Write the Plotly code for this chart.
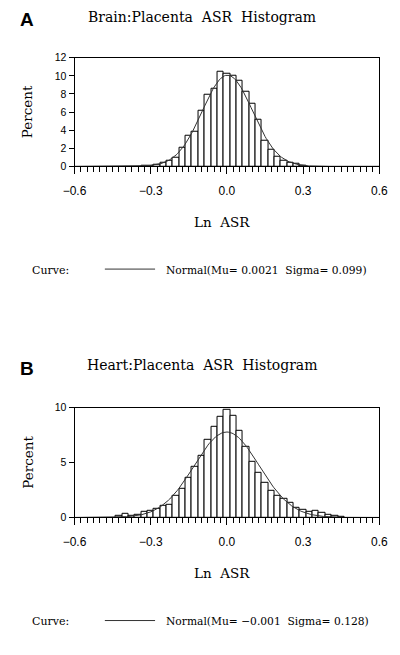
import math
import plotly.graph_objects as go

# ---------------- data ----------------
bin_width = 0.025

brain_mids = [-0.325, -0.3, -0.275, -0.25, -0.225, -0.2, -0.175, -0.15, -0.125, -0.1,
              -0.075, -0.05, -0.025, 0.0, 0.025, 0.05, 0.075, 0.1, 0.125, 0.15,
              0.175, 0.2, 0.225, 0.25, 0.275, 0.3]
brain_pct = [0.07, 0.1, 0.2, 0.38, 0.58, 1.0, 2.0, 3.33, 3.85, 6.1,
             7.95, 8.62, 10.5, 10.25, 10.0, 9.42, 8.2, 6.9, 5.12, 2.85,
             1.88, 1.05, 0.62, 0.45, 0.3, 0.1]
brain_mu, brain_sigma = 0.0021, 0.099

heart_mids = [-0.425, -0.4, -0.375, -0.35, -0.325, -0.3, -0.275, -0.25, -0.225, -0.2,
              -0.175, -0.15, -0.125, -0.1, -0.075, -0.05, -0.025, 0.0, 0.025, 0.05,
              0.075, 0.1, 0.125, 0.15, 0.175, 0.2, 0.225, 0.25, 0.275, 0.3,
              0.325, 0.35, 0.375, 0.4, 0.425, 0.45]
heart_pct = [0.12, 0.3, 0.18, 0.25, 0.5, 0.6, 0.82, 1.08, 1.2, 1.98,
             2.58, 3.58, 4.65, 5.65, 7.12, 8.28, 9.18, 9.85, 9.25, 7.9,
             6.45, 5.12, 4.05, 3.15, 2.4, 1.95, 1.72, 1.3, 0.92, 0.68,
             0.5, 0.58, 0.45, 0.25, 0.15, 0.1]
heart_mu, heart_sigma = -0.001, 0.128

x_tickvals = [-0.6, -0.3, 0.0, 0.3, 0.6]
x_ticktext = ["\u22120.6", "\u22120.3", "0.0", "0.3", "0.6"]
brain_yticks = [0, 2, 4, 6, 8, 10, 12]
heart_yticks = [0, 5, 10]

panel_titles = ["Brain:Placenta  ASR  Histogram", "Heart:Placenta  ASR  Histogram"]
legend_texts = ["Normal(Mu= 0.0021  Sigma= 0.099)", "Normal(Mu= \u22120.001  Sigma= 0.128)"]


def normal_curve(mu, sigma, lo=-0.6, hi=0.6, n=241):
    xs, ys = [], []
    for i in range(n):
        x = lo + (hi - lo) * i / (n - 1)
        d = math.exp(-0.5 * ((x - mu) / sigma) ** 2) / (sigma * math.sqrt(2 * math.pi))
        xs.append(x)
        ys.append(100 * bin_width * d)
    return xs, ys


# ---------------- figure ----------------
W, H = 400, 655
fig = go.Figure()

def py(pix):  # pixel y (from top) -> paper y
    return 1 - pix / H

def px(pix):
    return pix / W

serif = "DejaVu Serif"
sans = "Liberation Sans"

panels = [
    dict(mids=brain_mids, pct=brain_pct, mu=brain_mu, sigma=brain_sigma, top=52.7, bot=163.3,
         yr=[0, 12], yt=brain_yticks, xa="x", ya="y", letter="A", letter_y=14,
         title_y=11, xlab_y=220, leg_y=269, title=panel_titles[0], leg=legend_texts[0]),
    dict(mids=heart_mids, pct=heart_pct, mu=heart_mu, sigma=heart_sigma, top=409.3, bot=521,
         yr=[0, 10], yt=heart_yticks, xa="x2", ya="y2", letter="B", letter_y=369,
         title_y=366, xlab_y=578, leg_y=627, title=panel_titles[1], leg=legend_texts[1]),
]

for i, p in enumerate(panels):
    fig.add_trace(go.Bar(x=p["mids"], y=p["pct"], width=bin_width,
                         marker=dict(color="white", line=dict(color="black", width=1)),
                         xaxis=p["xa"], yaxis=p["ya"], showlegend=False))
    cx, cy = normal_curve(p["mu"], p["sigma"])
    fig.add_trace(go.Scatter(x=cx, y=cy, mode="lines", line=dict(color="#333333", width=1),
                             xaxis=p["xa"], yaxis=p["ya"], showlegend=False))

    xkey = "xaxis" if i == 0 else "xaxis2"
    ykey = "yaxis" if i == 0 else "yaxis2"
    fig.layout[xkey] = dict(
        domain=[px(66), px(387.7)], anchor=p["ya"], range=[-0.6, 0.6],
        tickmode="array", tickvals=x_tickvals, ticktext=x_ticktext,
        ticks="outside", ticklen=7, tickwidth=1, tickcolor="black",
        showline=True, linecolor="black", linewidth=1, mirror=True,
        showgrid=False, zeroline=False, ticklabelstandoff=6,
        tickfont=dict(family=sans, size=12, color="black"),
        minor=dict(tickmode="linear", tick0=-0.6, dtick=0.025, ticks="outside",
                   ticklen=5, tickwidth=1, tickcolor="black", showgrid=False),
    )
    fig.layout[ykey] = dict(
        domain=[py(p["bot"]), py(p["top"])], anchor=p["xa"], range=p["yr"],
        tickmode="array", tickvals=p["yt"], ticks="outside", ticklen=5,
        tickwidth=1, tickcolor="black",
        showline=True, linecolor="black", linewidth=1, mirror=True,
        showgrid=False, zeroline=False,
        tickfont=dict(family=sans, size=10.5, color="black"),
    )

    # panel letter
    fig.add_annotation(x=px(6), y=py(p["letter_y"]), xref="paper", yref="paper",
                       xanchor="left", yanchor="middle", showarrow=False,
                       text="<b>%s</b>" % p["letter"],
                       font=dict(family=sans, size=19, color="black"))
    # title
    fig.add_annotation(x=px(200), y=py(p["title_y"]), xref="paper", yref="paper",
                       xanchor="center", yanchor="middle", showarrow=False,
                       text=p["title"], font=dict(family=serif, size=14, color="black"))
    # y axis title
    fig.add_annotation(x=px(16), y=py((p["top"] + p["bot"]) / 2), xref="paper", yref="paper",
                       xanchor="center", yanchor="middle", showarrow=False, textangle=-90,
                       text="Percent", font=dict(family=serif, size=13.5, color="black"))
    # x axis title
    fig.add_annotation(x=px(222), y=py(p["xlab_y"]), xref="paper", yref="paper",
                       xanchor="center", yanchor="middle", showarrow=False,
                       text="Ln  ASR", font=dict(family=serif, size=13.5, color="black"))
    # legend
    fig.add_annotation(x=px(19), y=py(p["leg_y"]), xref="paper", yref="paper",
                       xanchor="left", yanchor="middle", showarrow=False,
                       text="Curve:", font=dict(family=serif, size=11, color="black"))
    fig.add_shape(type="line", xref="paper", yref="paper",
                  x0=px(98), x1=px(151), y0=py(p["leg_y"] - 1), y1=py(p["leg_y"] - 1),
                  line=dict(color="#333333", width=1))
    fig.add_annotation(x=px(160), y=py(p["leg_y"]), xref="paper", yref="paper",
                       xanchor="left", yanchor="middle", showarrow=False,
                       text=p["leg"], font=dict(family=serif, size=10.7, color="black"))

fig.update_layout(width=W, height=H, margin=dict(l=0, r=0, t=0, b=0),
                  paper_bgcolor="white", plot_bgcolor="white", bargap=0,
                  showlegend=False)

fig.write_html("out.html", config={"displayModeBar": False},
               post_script="document.body.style.margin='0';document.body.style.overflow='hidden';")
